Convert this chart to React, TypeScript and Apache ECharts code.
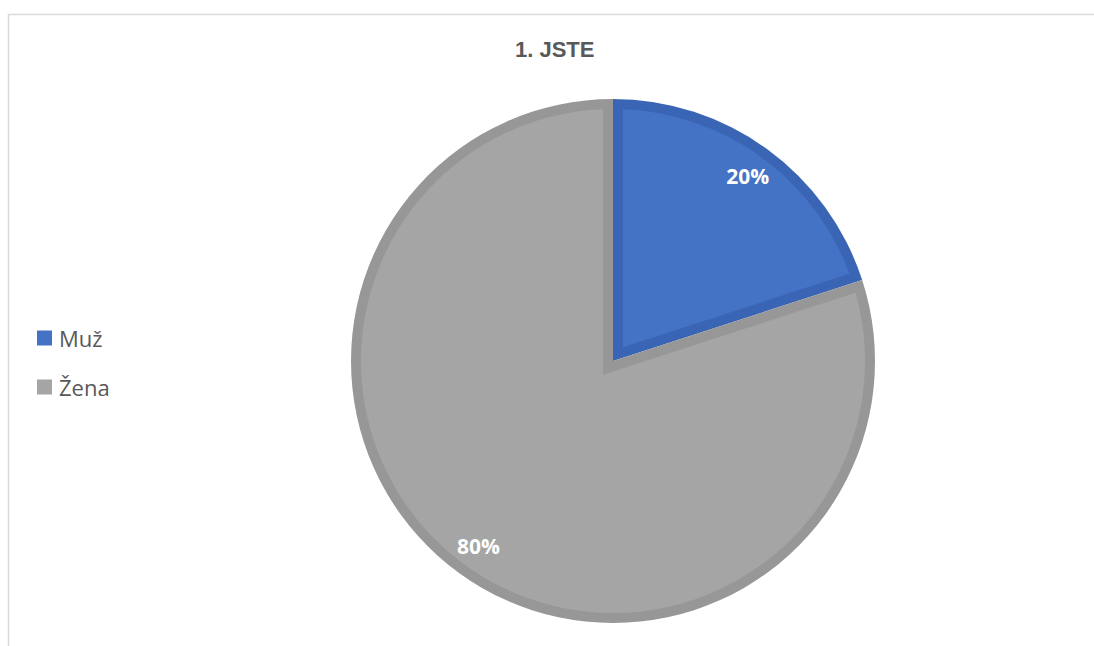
import React, { useEffect, useRef } from "react";
import * as echarts from "echarts";

const categories = ["Muž", "Žena"];
const values = [20, 80];
const fillColors = ["#4472C4", "#A5A5A5"];
const borderColors = ["#3A65B5", "#979797"];
const titleText = "1. JSTE";

const CX = 613;
const CY = 361;
const R = 262;
const BORDER = 10;
const LABEL_R = 229;

function pt(r: number, deg: number): number[] {
  const a = (deg * Math.PI) / 180;
  return [CX + r * Math.sin(a), CY - r * Math.cos(a)];
}

export default function App() {
  const ref = useRef<HTMLDivElement>(null);
  useEffect(() => {
    if (!ref.current) return;
    const chart = echarts.init(ref.current, undefined, { renderer: "svg" });
    const total = values.reduce((a, b) => a + b, 0);
    const starts: number[] = [];
    let acc = 0;
    values.forEach((v) => {
      starts.push((acc / total) * 360);
      acc += v;
    });

    const renderItem = (params: any) => {
      const i = params.dataIndex;
      const a0 = starts[i];
      const span = (values[i] / total) * 360;
      const a1 = a0 + span;
      const rho = R - BORDER;
      const half = span / 2;
      const apexDist = BORDER / Math.sin((half * Math.PI) / 180);
      const apex = pt(apexDist, a0 + half);
      const delta = (Math.asin(BORDER / rho) * 180) / Math.PI;
      const pts: number[][] = [apex];
      const s = a0 + delta;
      const e = a1 - delta;
      const n = Math.max(8, Math.ceil((e - s) / 1));
      for (let k = 0; k <= n; k++) {
        pts.push(pt(rho, s + ((e - s) * k) / n));
      }
      const lp = pt(LABEL_R, a0 + half);
      return {
        type: "group",
        children: [
          {
            type: "polygon",
            shape: { points: pts },
            style: { fill: fillColors[i], stroke: null },
          },
          {
            type: "text",
            x: lp[0],
            y: lp[1],
            style: {
              text: Math.round((values[i] / total) * 100) + "%",
              fill: "#FFFFFF",
              font: "bold 21px 'Open Sans'",
              align: "center",
              verticalAlign: "middle",
            },
          },
        ],
      };
    };

    chart.setOption({
      animation: false,
      backgroundColor: "#FFFFFF",
      title: {
        text: titleText,
        left: 515,
        top: 38,
        padding: 0,
        textStyle: {
          fontFamily: "Liberation Sans",
          fontWeight: "bold",
          fontSize: 22,
          color: "#595959",
        },
      },
      legend: {
        orient: "vertical",
        left: 37,
        top: 327,
        padding: 0,
        itemWidth: 15,
        itemHeight: 15,
        itemGap: 27,
        icon: "rect",
        selectedMode: false,
        textStyle: {
          fontFamily: "Open Sans",
          fontSize: 22,
          lineHeight: 22,
          color: "#595959",
          padding: [0, 0, 0, 2],
        },
        data: categories.map((c, i) => ({
          name: c,
          itemStyle: { color: fillColors[i] },
        })),
      },
      graphic: [
        {
          type: "rect",
          shape: { x: 8.5, y: 14.5, width: 1300, height: 900 },
          style: { fill: "none", stroke: "#D9D9D9", lineWidth: 1.5 },
          silent: true,
        },
      ],
      series: [
        {
          type: "pie",
          center: [CX, CY],
          radius: R,
          startAngle: 90,
          clockwise: true,
          silent: true,
          label: { show: false },
          labelLine: { show: false },
          itemStyle: { borderWidth: 0 },
          data: categories.map((c, i) => ({
            name: c,
            value: values[i],
            itemStyle: { color: borderColors[i] },
          })),
        },
        {
          type: "custom",
          name: "inset",
          coordinateSystem: "none",
          z: 3,
          silent: true,
          renderItem,
          data: values,
        },
      ],
    });
    return () => chart.dispose();
  }, []);
  return (
    <div
      ref={ref}
      style={{ position: "fixed", left: 0, top: 0, width: 1094, height: 646 }}
    />
  );
}
